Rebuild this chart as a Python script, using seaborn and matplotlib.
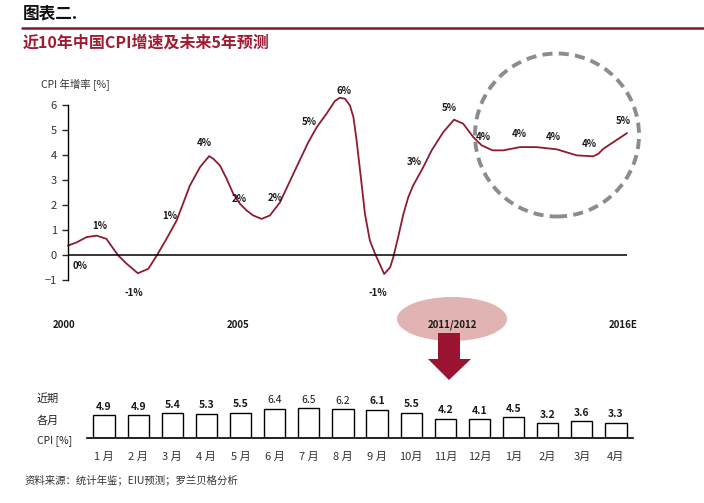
import matplotlib
matplotlib.use('Agg')
import matplotlib.pyplot as plt
import matplotlib.patches as mpatches
import matplotlib.transforms as mtransforms
import seaborn as sns
import pandas as pd

# yearly CPI curve
curve_year = [2000.0, 2000.25, 2000.53, 2000.82, 2001.1, 2001.3, 2001.44, 2001.68, 2002.0,
              2002.3, 2002.54, 2002.82, 2003.11, 2003.49, 2003.78, 2004.04, 2004.16, 2004.35,
              2004.54, 2004.73, 2004.92, 2005.11, 2005.3, 2005.54, 2005.78, 2006.07, 2006.45,
              2006.88, 2007.12, 2007.4, 2007.64, 2007.78, 2007.93, 2008.07, 2008.17, 2008.26,
              2008.36, 2008.5, 2008.64, 2008.79, 2009.05, 2009.22, 2009.31, 2009.45, 2009.6,
              2009.74, 2009.88, 2010.17, 2010.41, 2010.74, 2011.05, 2011.31, 2011.6, 2011.84,
              2012.15, 2012.46, 2012.94, 2013.41, 2013.99, 2014.56, 2015.03, 2015.18, 2015.32,
              2015.61, 2016.0]
curve_cpi = [0.36, 0.49, 0.70, 0.76, 0.63, 0.23, -0.04, -0.37, -0.75,
             -0.57, -0.04, 0.63, 1.37, 2.77, 3.51, 3.95, 3.84, 3.57,
             3.04, 2.44, 2.04, 1.77, 1.57, 1.43, 1.57, 2.10, 3.24,
             4.51, 5.11, 5.65, 6.16, 6.29, 6.25, 5.98, 5.51, 4.58,
             3.37, 1.63, 0.56, 0.03, -0.78, -0.51, -0.11, 0.70, 1.63,
             2.30, 2.77, 3.51, 4.18, 4.91, 5.41, 5.25, 4.71, 4.38,
             4.18, 4.18, 4.31, 4.31, 4.22, 3.98, 3.94, 4.04, 4.24,
             4.51, 4.87]

point_text = ['0%', '1%', '-1%', '1%', '4%', '2%', '2%', '5%', '6%', '-1%', '3%', '5%',
              '4%', '4%', '4%', '4%', '5%']
# where each label sits
point_x = [2000.34, 2000.9, 2001.89, 2002.92, 2003.89, 2004.9, 2005.92, 2006.91, 2007.9,
           2008.86, 2009.91, 2010.9, 2011.89, 2012.91, 2013.89, 2014.91, 2015.9]
point_y = [-0.44, 1.16, -1.53, 1.54, 4.49, 2.22, 2.28, 5.31, 6.56, -1.53, 3.73, 5.89,
           4.71, 4.85, 4.71, 4.45, 5.35]

year_ticks = ['2000', '2005', '2011/2012', '2016E']
year_pos = [1999.88, 2004.87, 2010.99, 2015.9]

months = ['1 月', '2 月', '3 月', '4 月', '5 月', '6 月', '7 月', '8 月', '9 月', '10月',
          '11月', '12月', '1月', '2月', '3月', '4月']
month_cpi = [4.9, 4.9, 5.4, 5.3, 5.5, 6.4, 6.5, 6.2, 6.1, 5.5, 4.2, 4.1, 4.5, 3.2, 3.6, 3.3]
light_vals = [5, 6, 7]  # these three labels are not bold

red = '#8E1B30'
W, H = 704, 503

sns.set_style('white')
plt.rcParams['font.family'] = ['Noto Sans CJK SC', 'DejaVu Sans']


def fx(px):
    return px / W


def fy(py):
    return 1 - py / H


fig = plt.figure(figsize=(7.04, 5.03), dpi=100)

# title block
fig.text(fx(23), fy(13), '图表二.', fontsize=12, fontweight='bold', style='italic',
         color='#111111', va='center', ha='left')
fig.add_artist(plt.Line2D([fx(22), fx(704)], [fy(27.5), fy(27.5)], color='#7A1A2A', lw=1.8))
fig.text(fx(23), fy(43), '近10年中国CPI增速及未来5年预测', fontsize=11.5, fontweight='bold',
         color='#9E1B32', va='center', ha='left')

# top line chart
ax = fig.add_axes([fx(68), fy(279.5), fx(627) - fx(68), (279.5 - 92.5) / H])
df = pd.DataFrame({'year': curve_year, 'cpi': curve_cpi})
sns.lineplot(data=df, x='year', y='cpi', sort=False, color=red, lw=1.3, ax=ax, clip_on=False)
ax.lines[0].set_solid_joinstyle('round')
ax.set_xlim(2000, 2016)
ax.set_ylim(-1, 6.5)
ax.axhline(0, color='black', lw=1.1)
for s in ['top', 'right', 'bottom']:
    ax.spines[s].set_visible(False)
ax.spines['left'].set_bounds(-1, 6)
ax.spines['left'].set_color('black')
ax.spines['left'].set_linewidth(1.0)
ax.set_yticks(range(-1, 7))
ax.tick_params(axis='y', direction='out', length=4, width=1, labelsize=8,
               labelcolor='#333333', left=True, pad=4)
ax.set_xticks([])
ax.set_xlabel('')
ax.set_ylabel('')
for t, x, y in zip(point_text, point_x, point_y):
    ax.text(x, y, t, fontsize=7, fontweight='bold', color='#1a1a1a', ha='center', va='center')

fig.text(fx(41), fy(85), 'CPI 年增率 [%]', fontsize=7.5, color='#333333', va='center', ha='left')

# dashed circle around the forecast
fig.add_artist(mpatches.Ellipse((fx(557), fy(135)), 164 / W, 163 / H, fill=False,
                                edgecolor='#8C8C8C', lw=2.8, linestyle=(0, (2.6, 1.6)),
                                transform=fig.transFigure))

# pink highlight + arrow
fig.add_artist(mpatches.Ellipse((fx(452), fy(319)), 110 / W, 44 / H, facecolor='#E2B3B3',
                                edgecolor='none', transform=fig.transFigure, zorder=0))
arrow = [(438, 333), (460, 333), (460, 359), (471, 359), (449, 380), (428, 359), (438, 359)]
fig.add_artist(mpatches.Polygon([(fx(a), fy(b)) for a, b in arrow], closed=True,
                                facecolor='#9A1330', edgecolor='none',
                                transform=fig.transFigure))

trans = mtransforms.blended_transform_factory(ax.transData, fig.transFigure)
for t, x in zip(year_ticks, year_pos):
    ax.text(x, fy(325), t, transform=trans, fontsize=7, fontweight='bold',
            color='#1a1a1a', ha='center', va='center')

# bottom bar chart of monthly CPI
bx = fig.add_axes([fx(87), fy(438), fx(633) - fx(87), 36.8 / H])
bdf = pd.DataFrame({'pos': range(len(months)), 'cpi': month_cpi})
sns.barplot(data=bdf, x='pos', y='cpi', color='white', edgecolor='black', linewidth=1,
            width=0.62, ax=bx, saturation=1)
bx.set_xlim(-0.5, len(months) - 0.5)
bx.set_ylim(0, 8)
for s in ['top', 'right', 'left']:
    bx.spines[s].set_visible(False)
bx.spines['bottom'].set_color('black')
bx.spines['bottom'].set_linewidth(1.2)
bx.set_yticks([])
bx.set_xticks(range(len(months)))
bx.set_xticklabels(months)
bx.tick_params(axis='x', length=0, pad=10, labelsize=8, labelcolor='#333333')
bx.set_xlabel('')
bx.set_ylabel('')
for i, v in enumerate(month_cpi):
    bx.annotate(f'{v:.1f}', (i, v), xytext=(0, 2.5), textcoords='offset points',
                ha='center', va='bottom', fontsize=7.5,
                fontweight='normal' if i in light_vals else 'bold', color='#1a1a1a')

fig.text(fx(37), fy(399), '近期', fontsize=8, color='#222222', va='center')
fig.text(fx(37), fy(421), '各月', fontsize=8, color='#222222', va='center')
fig.text(fx(37), fy(441), 'CPI [%]', fontsize=7.5, color='#222222', va='center')

fig.text(fx(25), fy(480), '资料来源：统计年鉴；EIU预测；罗兰贝格分析', fontsize=7.5,
         style='italic', color='#333333', va='center')

fig.savefig('out.png', dpi=100)
